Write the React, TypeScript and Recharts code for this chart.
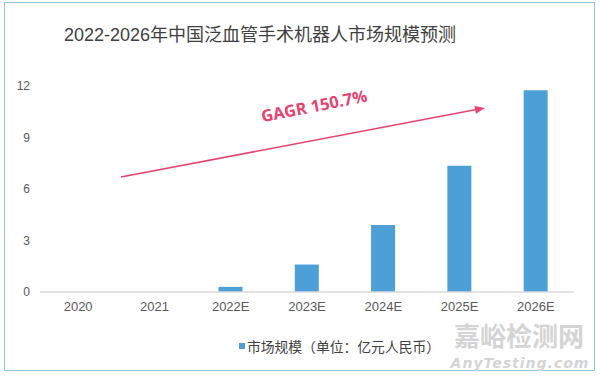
import { BarChart, Bar, XAxis, YAxis, ReferenceLine, Legend } from "recharts";

const years = ["2020", "2021", "2022E", "2023E", "2024E", "2025E", "2026E"];
const marketSize = [0, 0, 0.3, 1.6, 3.9, 7.35, 11.75];
const yTicks = [0, 3, 6, 9, 12];

// arrow annotation, in data units (x on a hidden 0..6 numeric axis)
const arrowFrom = { x: 0.91, y: 6.7 };
const arrowTo = { x: 5.0, y: 10.72 };
const cagrLabel = "GAGR 150.7%";

const data = years.map((year, i) => ({ year, value: marketSize[i] }));

const font = '"Liberation Sans", Arial, "Noto Sans CJK SC", sans-serif';

function Arrow(props: any) {
  const { x1, y1, x2, y2 } = props;
  const ang = Math.atan2(y2 - y1, x2 - x1);
  const len = 10;
  const w = 4;
  const bx = x2 - len * Math.cos(ang);
  const by = y2 - len * Math.sin(ang);
  const px = -Math.sin(ang) * w;
  const py = Math.cos(ang) * w;
  const mx = (x1 + x2) / 2 + 11;
  const my = (y1 + y2) / 2 - 37;
  const deg = (ang * 180) / Math.PI;
  return (
    <g>
      <line x1={x1} y1={y1} x2={bx} y2={by} stroke="#e8436f" strokeWidth={1.5} />
      <polygon
        points={`${x2},${y2} ${bx + px},${by + py} ${bx - px},${by - py}`}
        fill="#e8436f"
      />
      <text
        x={mx}
        y={my}
        transform={`rotate(${deg - 0.5} ${mx} ${my})`}
        textAnchor="middle"
        dominantBaseline="central"
        fill="#e8436f"
        fontSize={16.5}
        fontWeight="bold"
        fontFamily='"Open Sans", sans-serif'
      >
        {cagrLabel}
      </text>
    </g>
  );
}

function LegendBox() {
  return (
    <div
      style={{
        display: "flex",
        alignItems: "center",
        justifyContent: "center",
        fontFamily: font,
        fontSize: 13.8,
        color: "#404040",
        paddingLeft: 105,
        height: 24,
      }}
    >
      <span
        style={{ width: 6, height: 6, background: "#4d9fd8", marginRight: 2, display: "inline-block" }}
      />
      市场规模（单位：亿元人民币）
    </div>
  );
}

export default function App() {
  return (
    <div style={{ position: "absolute", left: 0, top: 0, width: 600, height: 376, background: "#fff" }}>
      <div
        style={{
          position: "absolute",
          left: 4,
          top: 2,
          width: 589,
          height: 367,
          border: "1.5px solid #8cc8e4",
        }}
      />
      <div
        style={{
          position: "absolute",
          top: 20,
          left: 0,
          width: 520,
          textAlign: "center",
          fontFamily: font,
          fontSize: 18,
          color: "#404040",
        }}
      >
        2022-2026年中国泛血管手术机器人市场规模预测
      </div>
      <BarChart
        width={600}
        height={376}
        data={data}
        margin={{ top: 86, right: 26, left: 0, bottom: 18 }}
        barCategoryGap="34%"
        style={{ position: "absolute", left: 0, top: 0 }}
      >
        <XAxis
          dataKey="year"
          axisLine={{ stroke: "#d9d9d9", strokeWidth: 1.5 }}
          tickLine={false}
          tick={{ fill: "#595959", fontSize: 13, fontFamily: font }}
          tickMargin={4}
          height={42}
        />
        <XAxis
          xAxisId="pos"
          type="number"
          domain={[0, 6]}
          allowDataOverflow
          hide
        />
        <YAxis
          domain={[0, 12]}
          ticks={yTicks}
          axisLine={false}
          tickLine={false}
          tick={{ fill: "#595959", fontSize: 12, fontFamily: font }}
          tickMargin={4}
          width={40}
        />
        <Bar dataKey="value" fill="#4d9fd8" isAnimationActive={false} />
        <ReferenceLine
          xAxisId="pos"
          segment={[arrowFrom, arrowTo]}
          ifOverflow="visible"
          shape={Arrow}
        />
        <Legend verticalAlign="bottom" height={24} content={() => <LegendBox />} />
      </BarChart>
      <div
        style={{
          position: "absolute",
          left: 448,
          top: 321,
          width: 142,
          textAlign: "center",
          fontFamily: '"Noto Sans CJK SC", sans-serif',
          fontSize: 26,
          fontWeight: "bold",
          color: "#d4d4d4",
          lineHeight: "27px",
        }}
      >
        嘉峪检测网
      </div>
      <div
        style={{
          position: "absolute",
          left: 450,
          top: 357,
          width: 140,
          textAlign: "center",
          fontFamily: '"DejaVu Sans", sans-serif',
          fontSize: 14,
          fontStyle: "italic",
          fontWeight: "bold",
          letterSpacing: 1,
          color: "#d4d4d4",
          lineHeight: "12px",
        }}
      >
        AnyTesting.com
      </div>
    </div>
  );
}
